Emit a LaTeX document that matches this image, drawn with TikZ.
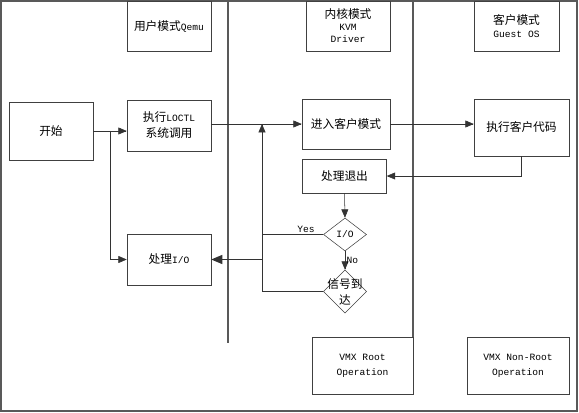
\documentclass[tikz,border=0pt]{standalone}
\usepackage{fontspec}
\setmainfont{Noto Sans CJK SC}
\newfontfamily\latfont{Liberation Mono}
\usetikzlibrary{arrows}
\usetikzlibrary{shapes.geometric}

\newcommand{\lat}[1]{{\latfont\fontsize{7.2}{9}\selectfont #1}}

\tikzset{
	box/.style={draw=black!75, fill=white, inner sep=1pt, align=center,
		minimum width=63pt, minimum height=37.5pt, font=\fontsize{8.8}{12}\selectfont},
	dia/.style={draw=black!75, fill=white, diamond, inner sep=0pt,
		minimum width=32.25pt, minimum height=24.75pt},
	lane/.style={draw=black!65, line width=0.9pt},
	link/.style={draw=black!80},
	arr/.style={draw=black!80, -triangle 45},
	tag/.style={font=\latfont\fontsize{7.2}{9}\selectfont, inner sep=1pt}
}

\begin{document}
\begin{tikzpicture}[x=0.75pt, y=-0.75pt]
		\useasboundingbox (0,0) rectangle (579,413);
		\draw[lane] (1,1) rectangle (577,411);
		\draw[lane] (228,1) -- (228,343);
		\draw[lane] (413,1) -- (413,394);
		
		% lane headers
		\node[box] (qemu)  at (169,26)   {用户模式\lat{Qemu}};
		\node[box] (kvm)   at (348,26)   {内核模式\\[-3pt]\lat{KVM}\\[-3pt]\lat{Driver}};
		\node[box, minimum width=63.75pt] (guest) at (516.5,26) {客户模式\\[-2pt]\lat{Guest OS}};
		
		% flow
		\node[box, minimum height=43.5pt] (start) at (51,131)    {开始};
		\node[box, minimum height=38.25pt] (ioctl) at (169,125.5) {执行\lat{LOCTL}\\系统调用};
		\node[box, minimum width=66pt] (enter) at (346,124) {进入客户模式};
		\node[box, minimum width=71.25pt, minimum height=42.75pt] (exec) at (521.5,127.5) {执行客户代码};
		\node[box, minimum height=25.5pt] (exit) at (344.5,176) {处理退出};
		\node[box, minimum height=38.25pt] (hio) at (169,259.5) {处理\lat{I/O}};
		\node[dia] (io)  at (345,234.5) {};
		\node[dia, minimum height=32.25pt] (sig) at (345,291.5) {};
		\node[font=\fontsize{8.8}{12}\selectfont, align=center, inner sep=0pt] (iotxt) at (io) {\lat{I/O}};
		\node[font=\fontsize{8.8}{12}\selectfont, align=center, inner sep=0pt] (sigtxt) at (sig) {信号到\\达};
		
		% modes
		\node[box, minimum width=75.75pt, minimum height=42.75pt] (root) at (362.5,365.5) {\lat{VMX Root}\\[-1pt]\lat{Operation}};
		\node[box, minimum width=76.5pt, minimum height=42.75pt] (nonroot) at (518,365.5) {\lat{VMX Non-Root}\\[-1pt]\lat{Operation}};
		
		\coordinate (split) at (110,131);
		\coordinate (bus) at (262,124);
		
		\draw[arr] (start.east) -- (start.east -| ioctl.west);
		\draw[arr] (split) |- (hio.west);
		\draw[arr] (ioctl.east |- enter.west) -- (enter.west);
		\draw[arr] (enter.east) -- (enter.east -| exec.west);
		\draw[arr] (exec.south) |- (exit.east);
		\draw[arr] (exit.south) -- (io.north);
		\draw[arr] (io.south) -- node[tag, right]{No} (sig.north);
		\draw[link] (io.west) -- node[tag, above, pos=0.28]{Yes} (io.west -| bus);
		\draw[link] (sig.west) -- (sig.west -| bus);
		\draw[arr] (sig.west -| bus) -- (bus);
		\draw[arr, line width=0.9pt] (hio.east -| bus) -- (hio.east);
\end{tikzpicture}
\end{document}
